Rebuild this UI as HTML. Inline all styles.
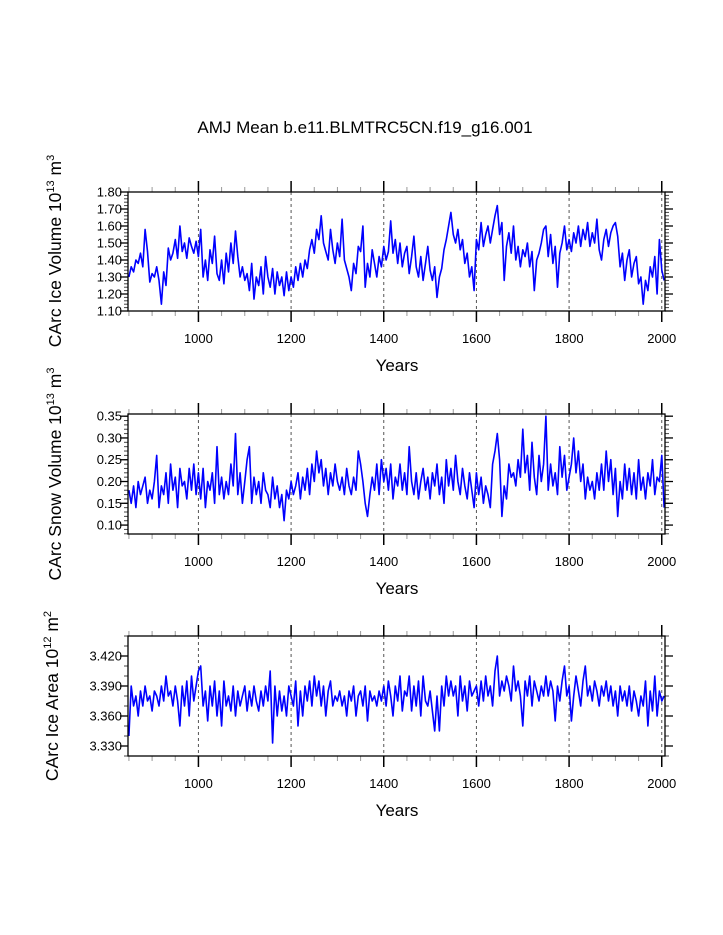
<!DOCTYPE html>
<html><head><meta charset="utf-8"><style>
html,body{margin:0;padding:0;background:#fff;}
svg{display:block;font-family:"Liberation Sans",Arial,sans-serif;}
</style></head><body>
<svg id="chart" width="723" height="935" viewBox="0 0 723 935" xmlns="http://www.w3.org/2000/svg">
<text x="365" y="133" font-size="17" text-anchor="middle">AMJ Mean b.e11.BLMTRC5CN.f19_g16.001</text>
</svg>
<script>
const startYear = 850;
const yearStep = 5;
const iceVolume = [
1.30,1.36,1.33,1.40,1.38,1.44,1.36,1.58,1.45,1.27,
1.32,1.30,1.36,1.28,1.14,1.33,1.25,1.47,1.40,1.44,
1.52,1.41,1.60,1.45,1.50,1.41,1.53,1.48,1.44,1.51,
1.42,1.58,1.30,1.40,1.28,1.46,1.38,1.54,1.32,1.28,
1.40,1.26,1.44,1.33,1.50,1.38,1.57,1.42,1.30,1.36,
1.28,1.32,1.22,1.38,1.17,1.30,1.25,1.36,1.20,1.42,
1.30,1.24,1.35,1.20,1.33,1.25,1.30,1.19,1.33,1.22,
1.30,1.24,1.36,1.28,1.38,1.30,1.40,1.35,1.46,1.52,
1.44,1.58,1.52,1.66,1.50,1.45,1.40,1.58,1.46,1.38,
1.50,1.42,1.64,1.40,1.35,1.30,1.22,1.38,1.32,1.48,
1.45,1.60,1.24,1.38,1.30,1.46,1.38,1.30,1.42,1.36,
1.48,1.40,1.45,1.63,1.44,1.52,1.38,1.50,1.36,1.44,
1.48,1.32,1.42,1.54,1.36,1.30,1.42,1.28,1.38,1.48,
1.34,1.28,1.36,1.18,1.30,1.35,1.46,1.52,1.60,1.68,
1.55,1.50,1.58,1.46,1.52,1.38,1.44,1.30,1.36,1.22,
1.52,1.46,1.62,1.48,1.55,1.60,1.50,1.58,1.66,1.72,
1.55,1.62,1.28,1.48,1.56,1.44,1.60,1.40,1.48,1.36,
1.46,1.42,1.50,1.36,1.45,1.22,1.40,1.44,1.50,1.58,
1.60,1.42,1.55,1.38,1.48,1.24,1.44,1.50,1.60,1.46,
1.52,1.45,1.56,1.50,1.60,1.48,1.58,1.52,1.62,1.48,
1.56,1.50,1.64,1.46,1.40,1.52,1.58,1.48,1.56,1.60,
1.62,1.54,1.36,1.44,1.28,1.40,1.46,1.30,1.38,1.42,
1.26,1.30,1.14,1.28,1.22,1.36,1.30,1.42,1.20,1.52,
1.34,1.28];
const snowVolume = [
0.18,0.15,0.19,0.14,0.20,0.17,0.19,0.21,0.15,0.18,
0.16,0.20,0.26,0.14,0.19,0.17,0.22,0.15,0.24,0.18,
0.21,0.14,0.23,0.19,0.20,0.16,0.23,0.18,0.24,0.17,
0.22,0.16,0.23,0.14,0.20,0.18,0.22,0.15,0.28,0.17,
0.21,0.16,0.20,0.17,0.24,0.19,0.31,0.17,0.22,0.15,
0.20,0.25,0.28,0.15,0.21,0.17,0.20,0.15,0.22,0.18,
0.17,0.14,0.21,0.16,0.19,0.14,0.17,0.11,0.18,0.16,
0.20,0.17,0.19,0.22,0.16,0.21,0.18,0.23,0.17,0.24,
0.20,0.27,0.22,0.25,0.19,0.23,0.17,0.22,0.19,0.24,
0.20,0.18,0.21,0.17,0.23,0.19,0.17,0.21,0.18,0.27,
0.24,0.20,0.15,0.12,0.17,0.21,0.18,0.24,0.17,0.25,
0.20,0.23,0.18,0.24,0.16,0.21,0.19,0.24,0.18,0.22,
0.17,0.28,0.20,0.17,0.22,0.16,0.20,0.23,0.18,0.21,
0.16,0.22,0.19,0.24,0.17,0.21,0.15,0.25,0.19,0.23,
0.18,0.26,0.20,0.17,0.23,0.19,0.16,0.22,0.18,0.14,
0.22,0.17,0.21,0.15,0.19,0.17,0.14,0.24,0.27,0.31,
0.25,0.12,0.19,0.16,0.24,0.21,0.22,0.19,0.25,0.21,
0.32,0.22,0.26,0.18,0.29,0.21,0.17,0.26,0.20,0.24,
0.35,0.18,0.24,0.19,0.22,0.17,0.28,0.21,0.26,0.18,
0.21,0.24,0.30,0.22,0.27,0.20,0.24,0.16,0.21,0.18,
0.20,0.16,0.22,0.18,0.24,0.18,0.27,0.20,0.25,0.17,
0.23,0.12,0.20,0.16,0.24,0.18,0.23,0.17,0.22,0.16,
0.25,0.18,0.21,0.16,0.22,0.19,0.25,0.17,0.21,0.20,
0.26,0.14];
const iceArea = [
3.34,3.39,3.37,3.38,3.36,3.385,3.37,3.39,3.375,3.38,
3.365,3.385,3.38,3.37,3.39,3.375,3.40,3.38,3.385,3.37,
3.39,3.375,3.35,3.39,3.37,3.395,3.36,3.40,3.375,3.39,
3.405,3.41,3.37,3.385,3.355,3.39,3.37,3.395,3.36,3.385,
3.35,3.395,3.37,3.38,3.365,3.39,3.36,3.385,3.37,3.38,
3.39,3.365,3.385,3.37,3.39,3.375,3.365,3.385,3.37,3.39,
3.375,3.405,3.333,3.39,3.36,3.385,3.365,3.38,3.36,3.39,
3.38,3.37,3.395,3.35,3.385,3.36,3.39,3.375,3.395,3.37,
3.40,3.38,3.395,3.37,3.39,3.36,3.385,3.395,3.37,3.38,
3.375,3.385,3.37,3.38,3.36,3.385,3.375,3.39,3.36,3.38,
3.385,3.37,3.39,3.355,3.385,3.375,3.38,3.37,3.385,3.375,
3.39,3.37,3.395,3.38,3.36,3.39,3.375,3.40,3.365,3.385,
3.38,3.40,3.365,3.39,3.37,3.395,3.36,3.40,3.375,3.37,
3.385,3.365,3.345,3.38,3.345,3.39,3.37,3.40,3.38,3.395,
3.38,3.39,3.36,3.40,3.375,3.39,3.365,3.395,3.38,3.385,
3.39,3.37,3.395,3.375,3.40,3.38,3.39,3.37,3.405,3.42,
3.38,3.395,3.385,3.40,3.39,3.375,3.41,3.385,3.395,3.38,
3.35,3.395,3.38,3.40,3.37,3.395,3.385,3.375,3.39,3.38,
3.40,3.38,3.395,3.385,3.355,3.39,3.375,3.395,3.41,3.38,
3.39,3.355,3.38,3.40,3.385,3.37,3.395,3.41,3.38,3.39,
3.375,3.395,3.385,3.37,3.39,3.38,3.395,3.375,3.39,3.37,
3.385,3.36,3.39,3.375,3.385,3.37,3.39,3.365,3.385,3.375,
3.36,3.38,3.37,3.395,3.35,3.385,3.365,3.40,3.36,3.385,
3.375,3.38];
const xTickYears = [1000,1200,1400,1600,1800,2000];
const iceVolumeTicks = ["1.10","1.20","1.30","1.40","1.50","1.60","1.70","1.80"];
const snowVolumeTicks = ["0.10","0.15","0.20","0.25","0.30","0.35"];
const iceAreaTicks = ["3.330","3.360","3.390","3.420"];

const svg = document.getElementById('chart');
const NS = 'http://www.w3.org/2000/svg';
function mk(tag, attrs, parent){
  const e = document.createElementNS(NS, tag);
  for (const k in attrs) e.setAttribute(k, attrs[k]);
  (parent||svg).appendChild(e);
  return e;
}
const X0 = 128, X1 = 665, YR0 = 848, YR1 = 2007;
function xScale(yr){ return X0 + (yr - YR0) / (YR1 - YR0) * (X1 - X0); }

function panel(cfg){
  const g = mk('g', {});
  
  
  const yScale = v => cfg.bot - (v - cfg.vmin) / (cfg.vmax - cfg.vmin) * (cfg.bot - cfg.top);
  xTickYears.forEach(yr => {
    const l = mk('line', {x1:xScale(yr), x2:xScale(yr), y1:cfg.top, y2:cfg.bot, stroke:'#555', 'stroke-width':1, 'stroke-dasharray':'3,3'}, g);
    
    
  });
  for (let yr = 850; yr <= 2000; yr += 50) {
    const major = xTickYears.indexOf(yr) >= 0;
    const len = major ? 11 : 5;
    const col = major ? '#000' : '#999';
    mk('line', {x1:xScale(yr), x2:xScale(yr), y1:cfg.top, y2:cfg.top-len, stroke:col, 'stroke-width':major?1.5:1}, g);
    mk('line', {x1:xScale(yr), x2:xScale(yr), y1:cfg.bot, y2:cfg.bot+len, stroke:col, 'stroke-width':major?1.5:1}, g);
  }
  xTickYears.forEach(yr => {
    const t = mk('text', {x:xScale(yr), y:cfg.bot+32, 'font-size':13, 'text-anchor':'middle'}, g);
    t.textContent = String(yr);
    
    
  });
  for (let v = cfg.vmin0; v <= cfg.vmax + 1e-9; v += cfg.minor) {
    const y = yScale(v);
    if (y < cfg.top - 0.5 || y > cfg.bot + 0.5) continue;
    mk('line', {x1:X0, x2:X0-4, y1:y, y2:y, stroke:'#444', 'stroke-width':1}, g);
    mk('line', {x1:X1, x2:X1+4, y1:y, y2:y, stroke:'#444', 'stroke-width':1}, g);
  }
  cfg.ticks.forEach(lbl => {
    const y = yScale(parseFloat(lbl));
    mk('line', {x1:X0, x2:X0-8, y1:y, y2:y, stroke:'#000', 'stroke-width':1.3}, g);
    mk('line', {x1:X1, x2:X1+8, y1:y, y2:y, stroke:'#000', 'stroke-width':1.3}, g);
    const t = mk('text', {x:X0-6, y:y+4.5, 'font-size':13, 'text-anchor':'end'}, g);
    t.textContent = lbl;
    
    
  });
  const pts = cfg.data.map((v,i) => xScale(startYear + i*yearStep).toFixed(1) + ',' + yScale(v).toFixed(1)).join(' ');
  const pl = mk('polyline', {points:pts, fill:'none', stroke:'#0000ff', 'stroke-width':1.6, 'stroke-linejoin':'round'}, g);
  
  
  const r = mk('rect', {x:X0, y:cfg.top, width:X1-X0, height:cfg.bot-cfg.top, fill:'none', stroke:'#000', 'stroke-width':1.3}, g);
  
  
  const xt = mk('text', {x:397, y:cfg.bot+60, 'font-size':17, 'text-anchor':'middle'}, g);
  xt.textContent = 'Years';
  
  
  const yt = mk('text', {x:0, y:0, 'font-size':17.5, 'text-anchor':'middle', transform:'translate(' + cfg.ylx + ',' + cfg.yly + ') rotate(-90)'}, g);
  yt.innerHTML = cfg.ylabel;
  
  
}
panel({name:'ice-volume-panel', top:192, bot:311, vmin:1.10, vmax:1.80, vmin0:1.10, minor:0.02, ticks:iceVolumeTicks, data:iceVolume, ylx:61, yly:251,
  ylabel:'CArc Ice Volume 10<tspan dy="-7" font-size="11">13</tspan><tspan dy="7"> m</tspan><tspan dy="-7" font-size="11">3</tspan>'});
panel({name:'snow-volume-panel', top:414, bot:534, vmin:0.0795, vmax:0.355, vmin0:0.08, minor:0.01, ticks:snowVolumeTicks, data:snowVolume, ylx:61, yly:474,
  ylabel:'CArc Snow Volume 10<tspan dy="-7" font-size="11">13</tspan><tspan dy="7"> m</tspan><tspan dy="-7" font-size="11">3</tspan>'});
panel({name:'ice-area-panel', top:636, bot:756, vmin:3.320, vmax:3.440, vmin0:3.320, minor:0.01, ticks:iceAreaTicks, data:iceArea, ylx:58, yly:696,
  ylabel:'CArc Ice Area 10<tspan dy="-7" font-size="11">12</tspan><tspan dy="7"> m</tspan><tspan dy="-7" font-size="11">2</tspan>'});
</script>
</body></html>
